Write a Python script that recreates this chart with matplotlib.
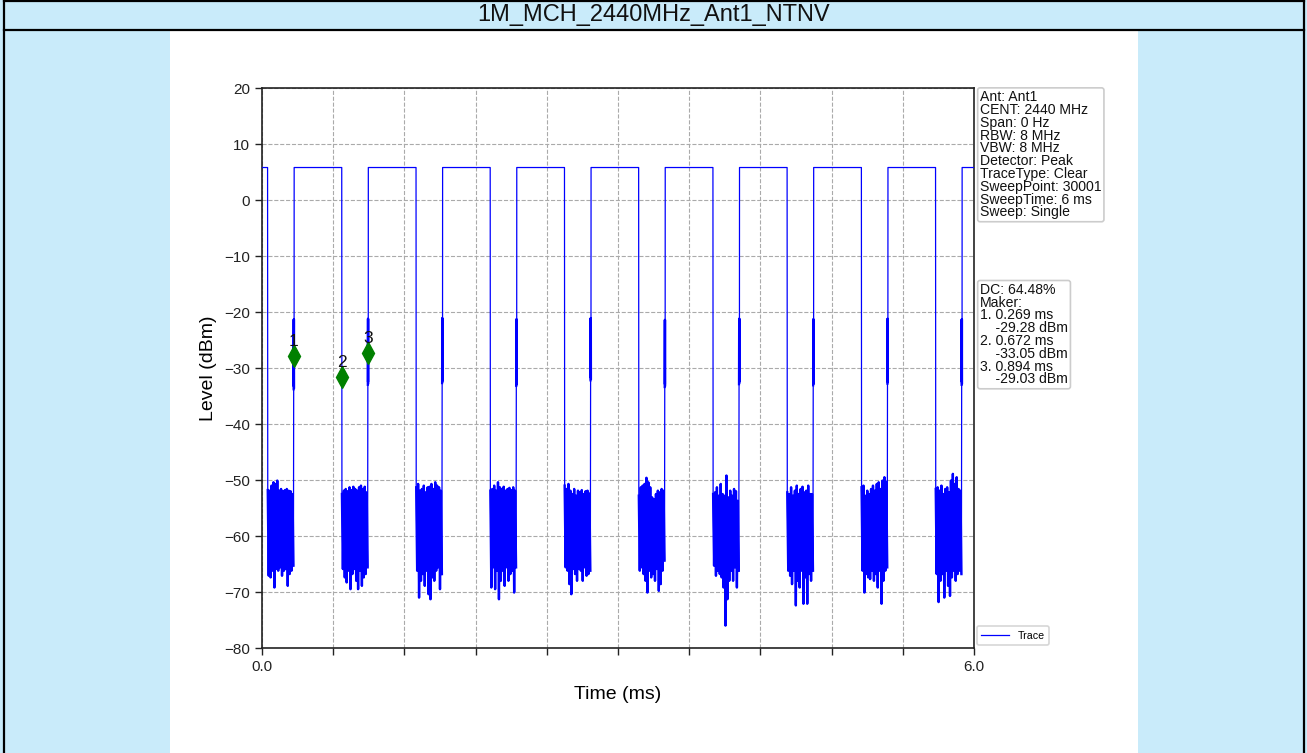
import numpy as np
import matplotlib
matplotlib.use("Agg")
import matplotlib.pyplot as plt
from matplotlib.patches import Rectangle
from matplotlib.lines import Line2D

plt.rcParams['font.family'] = ['Liberation Sans', 'DejaVu Sans']

# ---------------- data ----------------
title = "1M_MCH_2440MHz_Ant1_NTNV"
high_level = 5.8
fall_times = [0.047, 0.672, 1.298, 1.923, 2.549, 3.174, 3.800, 4.425, 5.051, 5.676]
rise_times = [0.269, 0.894, 1.520, 2.145, 2.771, 3.396, 4.022, 4.647, 5.273, 5.898]
spike_tops = [-21.3, -21.2, -21.1, -21.3, -21.1, -21.4, -21.2, -21.3, -21.2, -21.3]
spike_bottoms = [-33.8, -33.0, -32.7, -33.2, -32.2, -33.4, -32.9, -33.1, -32.8, -33.0]

noise_upper = [
    [-51.8, -51.9, -51.0, -50.4, -50.7, -50.1, -51.9, -51.6, -52.0, -51.8, -51.6, -51.9, -52.0, -52.5],
    [-52.5, -51.9, -51.6, -52.0, -51.3, -51.8, -51.2, -51.6, -51.9, -51.3, -51.0, -51.6, -51.2, -52.2],
    [-51.3, -50.7, -51.9, -51.6, -51.0, -52.2, -51.3, -51.2, -50.7, -51.6, -50.4, -51.0, -51.3, -51.9],
    [-51.9, -51.6, -51.0, -51.9, -50.4, -51.3, -51.6, -51.2, -51.9, -51.6, -51.4, -51.8, -51.3, -51.9],
    [-51.0, -51.6, -50.7, -51.9, -52.5, -51.6, -52.8, -51.9, -52.2, -51.8, -52.5, -52.0, -51.9, -52.4],
    [-52.8, -51.3, -51.0, -50.7, -49.6, -50.4, -51.3, -53.1, -53.7, -52.5, -51.9, -52.2, -51.6, -51.9],
    [-52.5, -52.2, -51.3, -52.8, -50.7, -52.5, -52.8, -49.2, -53.1, -51.9, -52.8, -51.6, -52.0, -53.7],
    [-52.2, -52.5, -51.3, -52.8, -51.9, -51.0, -52.5, -51.6, -51.2, -52.2, -51.9, -51.0, -52.5, -52.5],
    [-51.3, -51.0, -52.8, -51.9, -52.5, -51.6, -51.0, -51.9, -50.7, -50.4, -51.6, -50.1, -49.5, -50.3],
    [-51.6, -51.3, -51.9, -51.0, -52.5, -51.6, -51.3, -52.2, -50.1, -48.9, -50.7, -49.5, -51.6, -51.9],
]
noise_lower = [
    [-67.1, -67.4, -66.2, -69.2, -65.9, -66.2, -65.6, -67.1, -66.2, -65.9, -68.9, -66.8, -66.2, -65.3],
    [-65.9, -67.4, -68.3, -66.2, -69.5, -66.8, -65.9, -68.0, -69.5, -66.2, -68.9, -67.4, -66.8, -65.6],
    [-66.2, -71.0, -68.0, -66.8, -68.9, -66.2, -70.4, -71.3, -67.4, -68.0, -66.2, -65.6, -69.5, -66.8],
    [-69.2, -65.6, -69.5, -66.2, -71.3, -68.0, -66.2, -68.9, -65.6, -68.0, -66.8, -66.2, -70.1, -65.6],
    [-65.6, -66.2, -68.6, -70.4, -65.9, -66.8, -68.0, -65.9, -66.2, -68.0, -65.6, -67.1, -66.8, -66.2],
    [-66.2, -65.6, -66.8, -68.0, -70.1, -66.2, -67.4, -66.8, -68.0, -65.9, -69.8, -68.6, -66.2, -64.4],
    [-65.3, -67.1, -66.2, -66.8, -67.4, -69.2, -76.0, -71.3, -68.0, -66.2, -68.0, -65.6, -69.2, -66.2],
    [-66.2, -67.1, -68.6, -66.2, -72.4, -68.0, -69.2, -66.2, -72.1, -67.4, -72.1, -66.8, -68.0, -66.2],
    [-66.2, -70.1, -66.8, -67.4, -67.7, -66.2, -68.0, -66.8, -69.2, -66.2, -72.1, -68.0, -66.2, -65.6],
    [-66.8, -71.8, -68.0, -66.8, -71.0, -66.2, -68.9, -70.7, -67.4, -66.2, -68.0, -66.8, -66.2, -66.8],
]
# core band of noise (dense middle part)
core_upper = [-53.0, -53.2, -52.8, -53.0, -53.4, -53.2, -53.6, -53.4, -52.8, -53.2]
core_lower = [-63.5, -64.0, -64.5, -64.3, -63.8, -64.0, -64.5, -64.6, -64.3, -64.5]

marker_times = [0.269, 0.672, 0.894]
marker_levels = [-27.8, -31.6, -27.4]
marker_labels = ["1", "2", "3"]

info_text = ("Ant: Ant1\nCENT: 2440 MHz\nSpan: 0 Hz\nRBW: 8 MHz\nVBW: 8 MHz\n"
             "Detector: Peak\nTraceType: Clear\nSweepPoint: 30001\nSweepTime: 6 ms\nSweep: Single")
marker_text = ("DC: 64.48%\nMaker:\n1. 0.269 ms\n    -29.28 dBm\n2. 0.672 ms\n    -33.05 dBm\n"
               "3. 0.894 ms\n    -29.03 dBm")

x_min, x_max = 0.0, 6.0
y_min, y_max = -80, 20

# ---------------- build trace ----------------
tx = [x_min]
ty = [high_level]
noise_segments = []
spike_segments = []
for k in range(len(fall_times)):
    tf, tr = fall_times[k], rise_times[k]
    tx.append(tf); ty.append(high_level)
    up, lo = noise_upper[k], noise_lower[k]
    vals = []
    for u, l in zip(up, lo):
        vals += [u, l]
    xs = np.linspace(tf + 0.0015, tr - 0.004, len(vals))
    tx += list(xs); ty += vals
    noise_segments.append((xs, vals))
    sb, st = spike_bottoms[k], spike_tops[k]
    sx = [tr - 0.0025, tr - 0.0012, tr - 0.0005, tr + 0.0005, tr + 0.0012]
    sy = [sb, st, sb + 0.5, st, sb + 0.3]
    tx += sx; ty += sy
    spike_segments.append((sx, sy))
    tx.append(tr + 0.002); ty.append(high_level)
tx.append(x_max); ty.append(high_level)

# ---------------- figure ----------------
W, H = 1307, 753
fig = plt.figure(figsize=(W / 100, H / 100), dpi=100)
fig.patch.set_facecolor('#c9ebfa')

# white panel
fig.patches.append(Rectangle((170 / W, 0), (1138 - 170) / W, (H - 31) / H,
                             transform=fig.transFigure, facecolor='white',
                             edgecolor='none', zorder=-5))
# borders
for (x0, y0, x1, y1) in [(4, 1, 1304, 1), (4, 30, 1304, 30), (4, 1, 4, H), (1304, 1, 1304, H)]:
    fig.lines.append(Line2D([x0 / W, x1 / W], [1 - y0 / H, 1 - y1 / H],
                            transform=fig.transFigure, color='black', lw=1.6, zorder=-4))
fig.text(654 / W, 1 - 15.5 / H, title, ha='center', va='center', fontsize=17, color='#111111')

ax = fig.add_axes([262 / W, 1 - 648 / H, (974 - 262) / W, (648 - 88) / H])
ax.set_zorder(5)
ax.set_facecolor('white')
ax.plot(tx, ty, color='blue', lw=0.9, label='Trace', zorder=3)
for xs, vals in noise_segments:
    ax.plot(xs, vals, color='blue', lw=1.7, zorder=3)
for sx, sy in spike_segments:
    ax.plot(sx, sy, color='blue', lw=1.6, zorder=3)

# noise cores
for k in range(len(fall_times)):
    ax.fill_between([fall_times[k] + 0.002, rise_times[k] - 0.004],
                    [core_lower[k]] * 2, [core_upper[k]] * 2,
                    color='blue', lw=0, zorder=3)

ax.plot(marker_times, marker_levels, linestyle='none', marker='d', color='green',
        markersize=11, zorder=5)
for t, lv, lb in zip(marker_times, marker_levels, marker_labels):
    ax.annotate(lb, (t, lv), xytext=(0, 5), textcoords='offset points',
                ha='center', va='bottom', fontsize=12.5, color='#111111', zorder=6)

ax.set_xlim(x_min, x_max)
ax.set_ylim(y_min, y_max)
xt = np.arange(0, 11) * 0.6
ax.set_xticks(xt)
ax.set_xticklabels(['0.0'] + [''] * 9 + ['6.0'])
ax.set_yticks(np.arange(-80, 21, 10))
ax.tick_params(labelsize=11, length=5, width=1, colors='#222222')
ax.grid(True, linestyle='--', color='#aaaaaa', lw=0.8)
for s in ax.spines.values():
    s.set_linewidth(1.2)
    s.set_color('#222222')
ax.set_xlabel('Time (ms)', fontsize=14, labelpad=9)
ax.set_ylabel('Level (dBm)', fontsize=14, labelpad=5)

box = dict(boxstyle='round,pad=0.17', facecolor='white', edgecolor='#cccccc', lw=1.2)
ax.text(1.0085, 0.996, info_text, transform=ax.transAxes, ha='left', va='top',
        fontsize=10.1, linespacing=0.89, bbox=box, color='#111111')
ax.text(1.0085, 0.652, marker_text, transform=ax.transAxes, ha='left', va='top',
        fontsize=10.1, linespacing=0.89, bbox=box, color='#111111')

leg = ax.legend(loc='lower left', bbox_to_anchor=(1.0, 0.0), fontsize=7.7,
                frameon=True, handlelength=2.6, borderpad=0.4, borderaxespad=0.3)
leg.get_frame().set_edgecolor('#cccccc')
leg.get_frame().set_linewidth(1.2)

fig.savefig('out.png', dpi=100, facecolor=fig.get_facecolor())
